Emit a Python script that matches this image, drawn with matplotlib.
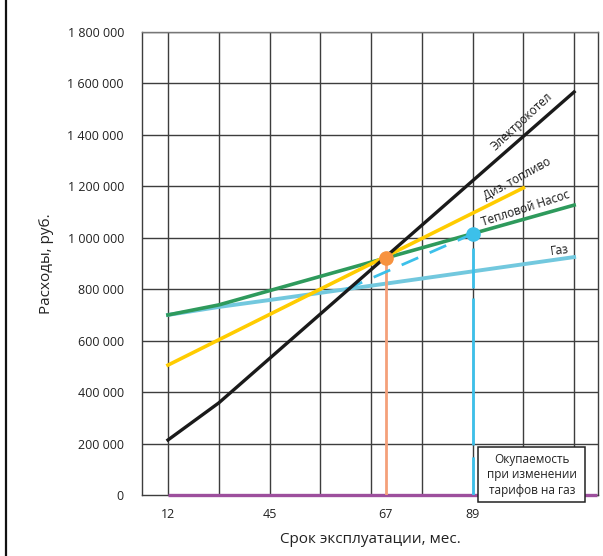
import numpy as np
import matplotlib
matplotlib.use('Agg')
import matplotlib.pyplot as plt
from matplotlib.patches import Rectangle
from matplotlib.lines import Line2D

plt.rcParams['font.family'] = ['Open Sans', 'DejaVu Sans']

# x axis is drawn in grid-cell positions (1..9), labels in months
grid_x = [1, 2, 3, 4, 5, 6, 7, 8, 9]
tick_pos = [1, 3, 5.29, 7]
tick_lab = ['12', '45', '67', '89']
y_ticks = [0, 200000, 400000, 600000, 800000, 1000000, 1200000, 1400000, 1600000, 1800000]

# series
x_electro = [1, 2, 9]
electro = [214000, 358000, 1567000]
x_diesel = [1, 8]
diesel = [505000, 1194000]
x_heatpump = [1, 2, 9]
heatpump = [700000, 739000, 1127000]
x_gas = [1, 2, 3, 9]
gas = [700000, 731000, 758000, 925000]
x_gas_new = [4.5, 7]
gas_new = [799000, 1015000]

payback_x = [5.29, 7]
payback_y = [922000, 1015000]
gas_line_top = 960000
zero_x = [1, 9.45]

fig = plt.figure(figsize=(6.03, 5.56), dpi=100)
ax = fig.add_axes([142/603, 61/556, 456/603, 463/556])
ax.set_xlim(0.488, 9.47)
ax.set_ylim(0, 1800000)

gcol = '#3d3d3d'
for gx in grid_x:
    ax.axvline(gx, color=gcol, lw=1.0, zorder=1)
for gy in y_ticks[1:]:
    ax.axhline(gy, color=gcol, lw=1.0, zorder=1)
for s in ax.spines.values():
    s.set_color(gcol)
    s.set_linewidth(1.0)
ax.spines['top'].set_color('#777777')

ax.set_yticks(y_ticks)
ax.set_yticklabels(['{:,}'.format(v).replace(',', ' ') for v in y_ticks], fontsize=9, color='#222222')
ax.set_xticks(tick_pos)
ax.set_xticklabels(tick_lab, fontsize=9, color='#222222')
ax.tick_params(axis='y', length=0, pad=13)
ax.tick_params(axis='x', length=0, pad=9)
ax.set_xlabel('Срок эксплуатации, мес.', fontsize=11, color='#222222', labelpad=8)
ax.set_ylabel('Расходы, руб.', fontsize=11, color='#222222', labelpad=10)

# lines
ax.plot(zero_x, [0, 0], color='#9d4f9d', lw=2.4, zorder=3, clip_on=False, solid_capstyle='butt')
ax.plot(x_gas, gas, color='#72c8de', lw=2.8, zorder=3)
ax.plot(x_heatpump, heatpump, color='#2e9a5c', lw=2.6, zorder=4)
ax.plot(x_diesel, diesel, color='#ffcc00', lw=2.6, zorder=4)
ax.plot(x_electro, electro, color='#1a1a1a', lw=2.4, zorder=5)
ax.plot(x_gas_new, gas_new, color='#3cc0ea', lw=2.0, zorder=4, dashes=(6.5, 4.5))

# payback verticals
ax.plot([payback_x[0], payback_x[0]], [payback_y[0], 0], color='#f4a07a', lw=2.0, zorder=3)
ax.plot([payback_x[1], payback_x[1]], [gas_line_top, 0], color='#3cc0ea', lw=2.0, zorder=3,
        dashes=(14.4, 3.6, 52.9, 4.3, 16))
ax.plot(payback_x[0], payback_y[0], 'o', color='#f7923f', ms=9.5, zorder=7)
ax.plot(payback_x[1], payback_y[1], 'o', color='#3cc0ea', ms=9.5, zorder=7)

# line labels
lab_kw = dict(fontsize=8.5, color='#1a1a1a', ha='center', va='center', rotation_mode='anchor', zorder=8)
ax.text(7.98, 1454000, 'Электрокотел', rotation=43, **lab_kw)
ax.text(7.88, 1229000, 'Диз. топливо', rotation=29, **lab_kw)
ax.text(8.05, 1112000, 'Тепловой Насос', rotation=18, **lab_kw)
ax.text(8.72, 952000, 'Газ', rotation=7, **lab_kw)

# note box
ax.add_patch(Rectangle((7.11, -27000), 2.11, 213600, facecolor='white', edgecolor='#222222',
                       lw=1.1, zorder=9, clip_on=False))
ax.text(8.165, 79000, 'Окупаемость\nпри изменении\nтарифов на газ', fontsize=8.5, color='#222222',
        ha='center', va='center', linespacing=1.25, zorder=10)

# left frame line
fig.add_artist(Line2D([6/603, 6/603], [0, 1], color='#111111', lw=1.6))

fig.savefig('out.png', dpi=100)
